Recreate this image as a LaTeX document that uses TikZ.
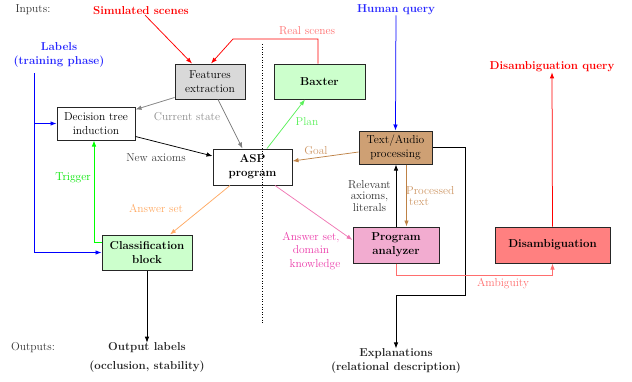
\documentclass[tikz,border=0pt]{standalone}
\usetikzlibrary{arrows.meta}
\definecolor{featgray}{RGB}{217,217,217}
\definecolor{lgreen}{RGB}{204,255,204}
\definecolor{tanbox}{RGB}{206,160,116}
\definecolor{pinkbox}{RGB}{242,172,208}
\definecolor{redbox}{RGB}{255,128,128}
\definecolor{goalc}{RGB}{190,130,70}
\definecolor{goaltxt}{RGB}{205,150,100}
\definecolor{plangreen}{RGB}{90,240,90}
\definecolor{orangec}{RGB}{255,170,100}
\definecolor{pinkc}{RGB}{240,120,180}
\definecolor{magtxt}{RGB}{235,60,170}
\definecolor{lightred}{RGB}{255,110,110}
\definecolor{labblue}{RGB}{40,40,255}
\begin{document}
\begin{tikzpicture}[x=1pt,y=-1pt,
  font=\fontsize{11.5}{13.8}\selectfont,
  box/.style={draw=black!85,line width=1pt,inner sep=0pt,align=center,minimum height=35pt},
  lbl/.style={inner sep=0pt,align=center},
  arr/.style={-{Latex[length=6pt,width=4.5pt]},line width=0.75pt},
  tight/.style={font=\fontsize{11.5}{11.5}\selectfont}]
\useasboundingbox (0,0) rectangle (632,381);
% boxes
\node[box,fill=featgray,minimum width=70pt] (feat) at (210,81.5) {Features\\extraction};
\node[box,fill=lgreen,minimum width=91pt,font=\fontsize{11.5}{13.8}\selectfont\bfseries] (baxter) at (319.5,81.5) {Baxter};
\node[box,fill=white,minimum width=78pt,minimum height=33pt] (dti) at (96,123.5) {Decision tree\\induction};
\node[box,fill=white,minimum width=79pt,minimum height=36pt,font=\fontsize{11.5}{13.8}\selectfont\bfseries] (asp) at (252.5,167) {ASP\\program};
\node[box,fill=tanbox,minimum width=73pt,minimum height=33pt] (text) at (395.5,147.5) {Text/Audio\\processing};
\node[box,fill=pinkbox,minimum width=86pt,minimum height=36pt,font=\fontsize{11.5}{13.8}\selectfont\bfseries] (prog) at (396,245) {Program\\analyzer};
\node[box,fill=redbox,minimum width=115pt,minimum height=36pt,font=\fontsize{11.5}{13.8}\selectfont\bfseries] (dis) at (552.5,245) {Disambiguation};
\node[box,fill=lgreen,minimum width=90pt,minimum height=35pt,font=\fontsize{11.5}{13.8}\selectfont\bfseries] (cls) at (147,252.5) {Classification\\block};
% texts
\node[lbl,text=black!80] (inputs) at (33,10) {Inputs:};
\node[lbl,text=red,font=\fontsize{11.5}{13.8}\selectfont\bfseries] (sim) at (141,11) {Simulated scenes};
\node[lbl,text=labblue,font=\fontsize{11.5}{13.8}\selectfont\bfseries] (hq) at (396,10) {Human query};
\node[lbl,text=labblue,font=\fontsize{11.5}{13.8}\selectfont\bfseries] (labels) at (59,55) {Labels\\(training phase)};
\node[lbl,text=red,font=\fontsize{11.5}{13.8}\selectfont\bfseries] (disq) at (552,67) {Disambiguation query};
\node[lbl,text=black!80] (outputs) at (33,348) {Outputs:};
\node[lbl,text=black!85,font=\fontsize{11.5}{13.8}\selectfont\bfseries] (outl) at (147,348) {Output labels};
\node[lbl,text=black!85,font=\fontsize{11.5}{13.8}\selectfont\bfseries] (outl2) at (147,367) {(occlusion, stability)};
\node[lbl,text=black!85,font=\fontsize{11.5}{13.8}\selectfont\bfseries] (expl) at (396,361) {Explanations\\(relational description)};
% edge labels
\node[lbl,text=lightred] (lreal) at (307,31) {Real scenes};
\node[lbl,text=black!45] (lcur) at (187,117) {Current state};
\node[lbl,text=black!75] (lnew) at (156,158) {New axioms};
\node[lbl,text=plangreen] (lplan) at (307,122) {Plan};
\node[lbl,text=goaltxt] (lgoal) at (316,151) {Goal};
\node[lbl,text=green!90!black] (ltrig) at (73,178) {Trigger};
\node[lbl,text=orangec] (lans) at (156,208) {Answer set};
\node[lbl,tight,text=black!80] (lrel) at (369.5,196) {Relevant\\axioms,\\literals};
\node[lbl,tight,text=goaltxt,align=left,anchor=west] (lproc) at (406,196) {Processed\\\hspace*{3pt}text};
\node[lbl,text=magtxt] (lads) at (311,251) {Answer set,\\domain\\\hspace*{8pt}knowledge};
\node[lbl,text=lightred] (lamb) at (503,284) {Ambiguity};
% coordinates
\coordinate (dtop) at (262,44);
\coordinate (dbot) at (262,323);
\coordinate (lb) at (34,73);
\coordinate (rs1) at (318,39);
\coordinate (rs2) at (233,39);
\coordinate (ex1) at (465,295);
% dotted separator
\draw[dotted,line width=0.6pt] (dtop) -- (dbot);
% connectors
\draw[arr,red] (sim) -- ([xshift=-18pt]feat.north);
\draw[arr,red] ([xshift=-1.5pt]baxter.north) -- (rs1) -- (rs2) -- ([xshift=1pt]feat.north);
\draw[arr,gray] ([yshift=2pt]feat.south west) -- ([yshift=-3pt]dti.north east);
\draw[arr,gray] ([xshift=8pt]feat.south) -- ([xshift=-10pt]asp.north);
\draw[arr,black] ([yshift=4pt]dti.south east) -- ([yshift=11pt]asp.west);
\draw[arr,plangreen] ([xshift=14.5pt]asp.north) -- ([xshift=-14.5pt]baxter.south);
\draw[arr,goalc] ([yshift=-4.5pt]text.west) -- ([yshift=6pt]asp.east);
\draw[arr,blue] (hq) -- (text.north);
\draw[arr,black] (text.east) -| (ex1) -| (expl.north);
\draw[arr,black] (prog.north) -- (prog.north |- text.south);
\draw[arr,goalc] ([xshift=11pt]text.south) -- ([xshift=11pt]text.south |- prog.north);
\draw[arr,pinkc] ([xshift=22.5pt]asp.south) -- ([yshift=5pt]prog.west);
\draw[arr,red] (dis.north) -- (disq.south);
\draw[arr,lightred] (prog.south) -- ++(0,12) -| (dis.south);
\draw[arr,orangec] ([xshift=-22.5pt]asp.south) -- ([xshift=23pt]cls.north);
\draw[arr,green] ([yshift=10.5pt]cls.west) -| ([xshift=-2pt]dti.south);
\draw[arr,blue] (lb) |- (cls.west);
\draw[arr,blue] (lb |- dti.west) -- (dti.west);
\draw[arr,black] (cls.south) -- (outl.north);
\end{tikzpicture}
\end{document}
